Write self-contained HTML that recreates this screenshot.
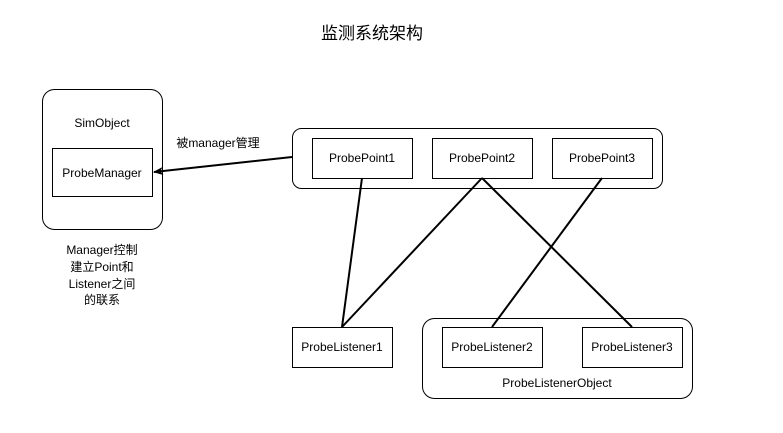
<!DOCTYPE html>
<html><head><meta charset="utf-8"><style>
html,body{margin:0;padding:0;background:#fff;}
svg{display:block;font-family:"Liberation Sans","Noto Sans CJK SC",sans-serif;}
</style></head><body>
<svg width="783" height="433" viewBox="0 0 783 433" xmlns="http://www.w3.org/2000/svg">
<defs><marker id="a" markerWidth="10" markerHeight="8" refX="9" refY="4" orient="auto" markerUnits="userSpaceOnUse"><path d="M0,0 L10,4 L0,8 L2.5,4 z" fill="#000"/></marker></defs>
<g fill="none" stroke="#000" stroke-width="1">
<rect x="42.5" y="89.5" width="120" height="140" rx="12"/>
<rect x="52.5" y="148.5" width="100" height="48"/>
<rect x="292.5" y="128.5" width="370" height="60" rx="9"/>
<rect x="312.5" y="138.5" width="100" height="40"/>
<rect x="432.5" y="138.5" width="100" height="40"/>
<rect x="552.5" y="138.5" width="100" height="40"/>
<rect x="292.5" y="327.5" width="100" height="40"/>
<rect x="422.5" y="318.5" width="270" height="80" rx="12"/>
<rect x="442.5" y="327.5" width="100" height="40"/>
<rect x="582.5" y="327.5" width="100" height="40"/>
</g>
<g stroke="#000" stroke-width="2" fill="none">
<line x1="292" y1="157" x2="154" y2="172" marker-end="url(#a)"/>
<line x1="362" y1="178" x2="342" y2="327"/>
<line x1="482" y1="178" x2="342" y2="327"/>
<line x1="482" y1="178" x2="632" y2="327"/>
<line x1="602" y1="178" x2="492" y2="327"/>
</g>
<g font-size="12" fill="#000" text-anchor="middle">
<text x="372" y="39" font-size="17">监测系统架构</text>
<text x="102" y="127">SimObject</text>
<text x="102" y="177">ProbeManager</text>
<text x="218" y="147">被manager管理</text>
<text x="102" y="254">Manager控制</text>
<text x="102" y="271">建立Point和</text>
<text x="102" y="288">Listener之间</text>
<text x="102" y="304">的联系</text>
<text x="362" y="162">ProbePoint1</text>
<text x="482" y="162">ProbePoint2</text>
<text x="602" y="162">ProbePoint3</text>
<text x="342" y="351">ProbeListener1</text>
<text x="492" y="351">ProbeListener2</text>
<text x="632" y="351">ProbeListener3</text>
<text x="557" y="387">ProbeListenerObject</text>
</g>
</svg>
</body></html>
